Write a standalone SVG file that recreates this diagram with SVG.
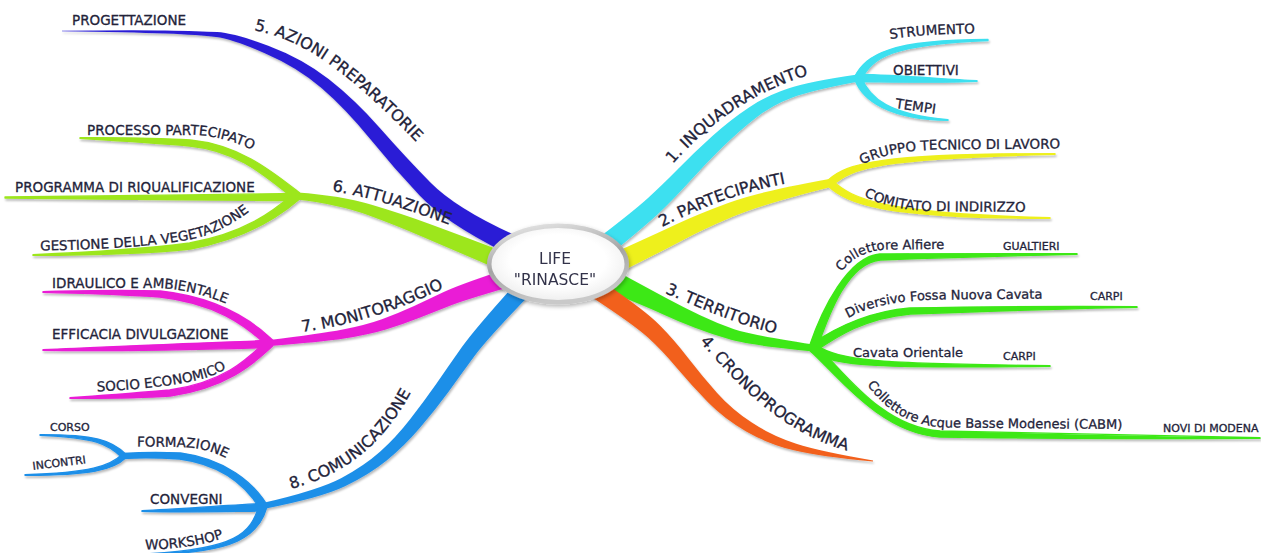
<svg xmlns="http://www.w3.org/2000/svg" width="1261" height="553" viewBox="0 0 1261 553">
<defs>
<style>
text{font-family:"DejaVu Sans",Verdana,sans-serif;fill:#23233a;stroke:#23233a;stroke-width:0.3px}
.main{font-size:16px}
.sub{font-size:13.5px}
.terr{font-size:13px}
.tiny{font-size:11px}
.hub{font-size:15.5px;text-anchor:middle;fill:#33334a;stroke:none}
#connectors path{stroke-width:0}
#connectors path.sb{stroke-width:1.3px;stroke-linejoin:round}
.c1{fill:#3ce0f0;stroke:#3ce0f0}
.c2{fill:#eef01e;stroke:#eef01e}
.c3{fill:#3ee818;stroke:#3ee818}
.c4{fill:#f2601c;stroke:#f2601c}
.c5{fill:#2a1fd6;stroke:#2a1fd6}
.c6{fill:#9de61f;stroke:#9de61f}
.c7{fill:#ea1fd6;stroke:#ea1fd6}
.c8{fill:#1f8fe8;stroke:#1f8fe8}
</style>
<filter id="shade" x="-5%" y="-5%" width="110%" height="115%">
<feDropShadow dx="1" dy="2" stdDeviation="1.2" flood-color="#000" flood-opacity="0.28"/>
</filter>
<filter id="hubShade" x="-20%" y="-20%" width="140%" height="150%">
<feDropShadow dx="1" dy="2" stdDeviation="2" flood-color="#000" flood-opacity="0.3"/>
</filter>
<linearGradient id="ring" x1="0" y1="0" x2="0.3" y2="1">
<stop offset="0" stop-color="#eeeeee"/>
<stop offset="0.55" stop-color="#a4a4a4"/>
<stop offset="1" stop-color="#c9c9c9"/>
</linearGradient>
<radialGradient id="face" cx="0.5" cy="0.45" r="0.6">
<stop offset="0.6" stop-color="#ffffff"/>
<stop offset="1" stop-color="#ececec"/>
</radialGradient>
<!-- baselines for labels that follow their branch -->
<path id="tp1" d="M673,164 C700,133 745,93 815,73"/>
<path id="tp2" d="M662,227 C700,208 740,191 800,181"/>
<path id="tp3" d="M665,293 C700,308 740,326 785,336"/>
<path id="tp4" d="M700,342 C730,375 775,430 845,450"/>
<path id="tp5" d="M254,30 C310,42 352,76 426,152"/>
<path id="tp6" d="M332,191 C370,197 410,210 455,227"/>
<path id="tp7" d="M302,332 C350,326 400,310 448,286"/>
<path id="tp8" d="M291,489 C330,478 378,458 415,385"/>
<path id="tpStrumento" d="M890,39 Q930,33.5 980,33.5"/>
<path id="tpTempi" d="M895,108 L940,114.5"/>
<path id="tpGruppo" d="M862,164.5 Q890,150.5 940,149.5 L1065,148.5"/>
<path id="tpComitato" d="M864,196 Q890,210 930,211 L1040,212"/>
<path id="tpAlfiere" d="M842,272 C851,258 866,250.5 888,249.5 L970,248.5"/>
<path id="tpDiversivo" d="M848,318 C870,305.5 900,300.5 940,299.5 L1055,298.5"/>
<path id="tpCabm" d="M867,385 C883,405 903,425 945,427.5 L1125,429"/>
<path id="tpProcesso" d="M87,134.5 L190,134.5 C215,135.5 240,141.5 265,157.5"/>
<path id="tpGestione" d="M40,250.5 C110,249.5 160,245.5 190,239.5 C215,234.5 235,223.5 258,204.5"/>
<path id="tpIdraulico" d="M52,287.5 L150,287.5 C180,288.5 205,293.5 240,309.5"/>
<path id="tpSocio" d="M97,391.5 C140,389.5 175,385.5 200,379.5 C215,375.5 226,369.5 240,360.5"/>
<path id="tpIncontri" d="M33,470 L89,463"/>
<path id="tpFormazione" d="M137,446.5 L180,447 C200,447.5 215,451.5 232,461.5"/>
<path id="tpWorkshop" d="M145,549.5 C175,549 200,546.5 228,536.5"/>
</defs>

<rect width="1261" height="553" fill="#ffffff"/>

<g id="connectors" filter="url(#shade)">
<!-- 1 cyan -->
<path class="c1" d="M600.8,236.1 Q633.8,210.8 647.2,198.7 Q660.6,186.6 677.5,169.5 Q694.3,152.3 712.4,136 Q730.5,119.6 749,107.4 Q767.5,95.1 788.2,88.4 Q808.9,81.6 857.4,74.5 L858.6,81.5 Q811.1,90.4 791.8,97.7 Q772.5,104.9 756,117.7 Q739.5,130.4 722.6,147.1 Q705.7,163.7 689.6,181.6 Q673.4,199.4 659.8,212.3 Q646.2,225.2 613.2,251.9 Z"/>
<path class="c1 sb" d="M854.9,76.3 C866.9,54.3 890,39.8 988,39.5 L988,40.5 C890,44.2 873.1,57.7 861.1,79.7 Z"/>
<path class="c1 sb" d="M858,74.5 C900,75 940,79 977,80.6 L977,81.4 C940,83 900,82 858,81.5 Z"/>
<path class="c1 sb" d="M861.3,76.8 C869.3,98.8 890.1,114.8 948,119.6 L948,120.4 C889.9,119.2 862.7,101.2 854.7,79.2 Z"/>
<!-- 2 yellow -->
<path class="c2" d="M613.7,253 Q656,233.9 676.4,224.3 Q696.8,214.7 727.5,203.3 Q758.1,191.8 829.2,179.1 L830.8,186.9 Q761.9,204.2 732.6,216.8 Q703.2,229.3 683.6,239.7 Q664,250.1 622.3,271 Z"/>
<path class="c2 sb" d="M827.7,180.4 C847.7,162.4 880,153.8 1055,153.6 L1055,154.4 C880,158.2 852.3,167.6 832.3,185.6 Z"/>
<path class="c2 sb" d="M832.4,180.5 C852.4,199.5 885,213.8 1050,217.6 L1050,218.4 C885,218.2 847.6,204.5 827.6,185.5 Z"/>
<!-- 3 green -->
<path class="c3" d="M618,272 Q653.8,291.4 668.5,299.3 Q683.1,307.2 700.1,315.3 Q717.1,323.4 734.1,329.3 Q751,335.1 813.4,344.5 L812.6,351.5 Q749,344.9 731,339.8 Q712.9,334.6 694.9,327.7 Q676.9,320.8 661.6,313.7 Q646.2,306.6 605,290 Z"/>
<path class="c3 sb" d="M809.2,346.7 C822.2,308.7 847.7,257 879.7,254 C920,253.5 1000,253.3 1077,253.6 L1077,254.4 C1000,255.7 920,258.5 880.3,260 C848.3,263 829.8,311.3 816.8,349.3 Z"/>
<path class="c3 sb" d="M810.7,344.7 C832.7,329.7 864.7,312 909.7,308 C980,306.5 1060,306.3 1137,306.6 L1137,307.4 C1060,308.7 980,311.5 910.3,314 C865.3,318 837.3,336.3 815.3,351.3 Z"/>
<path class="c3 sb" d="M815.2,344.6 C839.9,361.1 880,364 1050,365.6 L1050,366.4 C880,368 836.1,366.9 810.8,351.4 Z"/>
<path class="c3 sb" d="M815.7,345 C842.7,369 880.2,427 940.2,431 C1040,433.5 1150,436.3 1260,437.6 L1260,438.4 C1150,438.7 1040,438.5 939.8,437 C879.8,433 837.3,375 810.3,351 Z"/>
<!-- 4 orange -->
<path class="c4" d="M605.5,283.6 Q645.5,310.9 659.7,325.3 Q673.9,339.6 688.1,358 Q702.3,376.4 717.1,392.9 Q731.8,409.3 751.8,422.6 Q771.8,435.9 796.2,443.8 Q820.5,451.6 873.1,460.5 L872.9,461.5 Q819.5,456.5 793.9,450.3 Q768.2,444.1 746.2,431.4 Q724.2,418.7 708,402.2 Q691.7,385.6 676.9,368 Q662.1,350.4 648.3,337.8 Q634.5,325.1 590,296 Z"/>
<!-- 5 dark blue -->
<path class="c5" d="M62,30.7 Q130,29.8 165,30.4 Q200.1,31 217,32 Q233.9,32.9 268.2,45.8 Q302.5,58.7 328.6,79.1 Q354.6,99.4 380.3,128.5 Q405.9,157.6 430.7,182.7 Q455.4,207.8 512.4,234 L503.7,252 Q444.6,222.2 419.4,195.3 Q394.1,168.4 369.8,138.5 Q345.4,108.6 321.5,88 Q297.5,67.3 264.8,53.2 Q232.1,39.1 216,37.1 Q199.9,35 165,33.6 Q130,32.2 62,31.3 Z"/>
<!-- 6 yellow-green -->
<path class="c6" d="M491.7,266.4 Q447,247.4 422.4,236.8 Q397.8,226.1 368.4,215.3 Q339,204.4 296.7,199.5 L297.3,192.5 Q341,195.6 371.6,204.8 Q402.2,213.9 427.6,223.3 Q453,232.6 498.3,249.7 Z"/>
<path class="c6 sb" d="M294.5,199.2 C267.5,178.2 239.7,151 189.7,146 C150,142.5 110,140.2 80,138.4 L80,137.6 C110,137.8 150,137.5 190.3,140 C240.3,145 272.5,171.8 299.5,192.8 Z"/>
<path class="c6 sb" d="M297,193.5 C200,194.5 100,196 5,197 L5,198 C100,199.5 200,200 297,200.5 Z"/>
<path class="c6 sb" d="M299.6,199 C277.6,218 245.5,239 190.5,249 C140,254.5 80,255.2 33,255.4 L33,254.6 C80,252.8 140,249.5 189.5,243 C244.5,233 272.4,212 294.4,193 Z"/>
<!-- 7 magenta -->
<path class="c7" d="M507.9,287.5 Q462.9,300.5 449.4,306 Q435.8,311.4 419,318 Q402.1,324.6 385.2,329.8 Q368.2,334.9 344.4,338.5 Q320.5,342 270.3,346 L269.7,340 Q319.5,334 342.7,329.6 Q365.8,325.1 381.9,319.3 Q397.9,313.4 414.1,306 Q430.2,298.6 443.7,292.1 Q457.1,285.5 502.1,270.5 Z"/>
<path class="c7 sb" d="M267.2,345.9 C245.2,324.9 214.7,303 159.7,297 C120,294.5 80,293.2 43,292.4 L43,291.6 C80,290.8 120,289.5 160.3,291 C215.3,297 250.8,319.1 272.8,340.1 Z"/>
<path class="c7 sb" d="M270,340.5 C200,342.5 120,346.5 43,349.6 L43,350.4 C120,351.5 200,349.5 270,347.5 Z"/>
<path class="c7 sb" d="M272.8,345.9 C252.8,364.9 225.4,388 170.4,396 C130,398.5 100,398.2 70,398.4 L70,397.6 C100,395.8 130,393.5 169.6,390 C224.6,382 247.2,359.1 267.2,340.1 Z"/>
<!-- 8 light blue -->
<path class="c8" d="M528.6,296.1 Q486.1,340.1 473.6,357.3 Q461.1,374.4 448.4,391.9 Q435.6,409.3 420,427.8 Q404.3,446.2 387,460.2 Q369.7,474.2 345.5,486 Q321.3,497.8 263.6,508.9 L262.4,503.1 Q318.7,490.2 341.5,478 Q364.3,465.8 380,451.8 Q395.7,437.8 410.1,419.3 Q424.4,400.8 436.7,383.2 Q448.9,365.6 461.4,347.8 Q473.9,329.9 515.4,283.9 Z"/>
<path class="c8 sb" d="M259.6,508.1 C246.6,487.1 224.6,465 179.6,459 C160,457.8 140,457.6 123,458.5 L123,453.5 C140,452.4 160,452.2 180.4,453 C225.4,459 253.4,482.9 266.4,503.9 Z"/>
<path class="c8 sb" d="M122.2,457.8 C108.2,443.8 95,437.5 40,435.3 L40,434.7 C95,434.5 111.8,440.2 125.8,454.2 Z"/>
<path class="c8 sb" d="M125.8,457.8 C113.8,469.8 90,475.5 25,475.3 L25,474.7 C90,472.5 110.2,466.2 122.2,454.2 Z"/>
<path class="c8 sb" d="M263,503.5 C220,505.5 180,509 142,510.6 L142,511.4 C180,512.5 220,511.5 263,511 Z"/>
<path class="c8 sb" d="M266.9,507.1 C258.9,536.1 235.1,553 150,554.4 L150,553.6 C234.9,549 251.1,533.9 259.1,504.9 Z"/>
</g>

<g id="node-center" filter="url(#hubShade)">
<ellipse cx="558" cy="264" rx="71" ry="40.5" fill="url(#ring)"/>
<ellipse cx="558" cy="264" rx="66.5" ry="36" fill="url(#face)"/>
<text class="hub" x="555" y="264">LIFE</text>
<text class="hub" x="555" y="285">"RINASCE"</text>
</g>

<g id="node-1"><text class="main"><textPath href="#tp1">1. INQUADRAMENTO</textPath></text></g>
<g id="node-1-strumento"><text class="sub"><textPath href="#tpStrumento">STRUMENTO</textPath></text></g>
<g id="node-1-obiettivi"><text class="sub" x="893" y="74.5">OBIETTIVI</text></g>
<g id="node-1-tempi"><text class="sub"><textPath href="#tpTempi">TEMPI</textPath></text></g>

<g id="node-2"><text class="main"><textPath href="#tp2">2. PARTECIPANTI</textPath></text></g>
<g id="node-2-gruppo"><text class="sub"><textPath href="#tpGruppo">GRUPPO TECNICO DI LAVORO</textPath></text></g>
<g id="node-2-comitato"><text class="sub"><textPath href="#tpComitato">COMITATO DI INDIRIZZO</textPath></text></g>

<g id="node-3"><text class="main"><textPath href="#tp3">3. TERRITORIO</textPath></text></g>
<g id="node-3-alfiere">
<text class="terr"><textPath href="#tpAlfiere">Collettore Alfiere</textPath></text>
<text class="tiny" x="1003" y="250">GUALTIERI</text>
</g>
<g id="node-3-diversivo">
<text class="terr"><textPath href="#tpDiversivo">Diversivo Fossa Nuova Cavata</textPath></text>
<text class="tiny" x="1090" y="300">CARPI</text>
</g>
<g id="node-3-cavata">
<text class="terr" x="853" y="356.5">Cavata Orientale</text>
<text class="tiny" x="1003" y="360">CARPI</text>
</g>
<g id="node-3-cabm">
<text class="terr"><textPath href="#tpCabm">Collettore Acque Basse Modenesi (CABM)</textPath></text>
<text class="tiny" x="1163" y="432">NOVI DI MODENA</text>
</g>

<g id="node-4"><text class="main"><textPath href="#tp4">4. CRONOPROGRAMMA</textPath></text></g>

<g id="node-5"><text class="main"><textPath href="#tp5">5. AZIONI PREPARATORIE</textPath></text></g>
<g id="node-5-progettazione"><text class="sub" x="72" y="25">PROGETTAZIONE</text></g>

<g id="node-6"><text class="main"><textPath href="#tp6">6. ATTUAZIONE</textPath></text></g>
<g id="node-6-processo"><text class="sub"><textPath href="#tpProcesso">PROCESSO PARTECIPATO</textPath></text></g>
<g id="node-6-programma"><text class="sub" x="15" y="191.5">PROGRAMMA DI RIQUALIFICAZIONE</text></g>
<g id="node-6-gestione"><text class="sub"><textPath href="#tpGestione">GESTIONE DELLA VEGETAZIONE</textPath></text></g>

<g id="node-7"><text class="main"><textPath href="#tp7">7. MONITORAGGIO</textPath></text></g>
<g id="node-7-idraulico"><text class="sub"><textPath href="#tpIdraulico">IDRAULICO E AMBIENTALE</textPath></text></g>
<g id="node-7-efficacia"><text class="sub" x="52" y="338.5">EFFICACIA DIVULGAZIONE</text></g>
<g id="node-7-socio"><text class="sub"><textPath href="#tpSocio">SOCIO ECONOMICO</textPath></text></g>

<g id="node-8"><text class="main"><textPath href="#tp8">8. COMUNICAZIONE</textPath></text></g>
<g id="node-8-formazione"><text class="sub"><textPath href="#tpFormazione">FORMAZIONE</textPath></text></g>
<g id="node-8-corso"><text class="tiny" x="50" y="431">CORSO</text></g>
<g id="node-8-incontri"><text class="tiny"><textPath href="#tpIncontri">INCONTRI</textPath></text></g>
<g id="node-8-convegni"><text class="sub" x="150" y="503.5">CONVEGNI</text></g>
<g id="node-8-workshop"><text class="sub"><textPath href="#tpWorkshop">WORKSHOP</textPath></text></g>
</svg>
